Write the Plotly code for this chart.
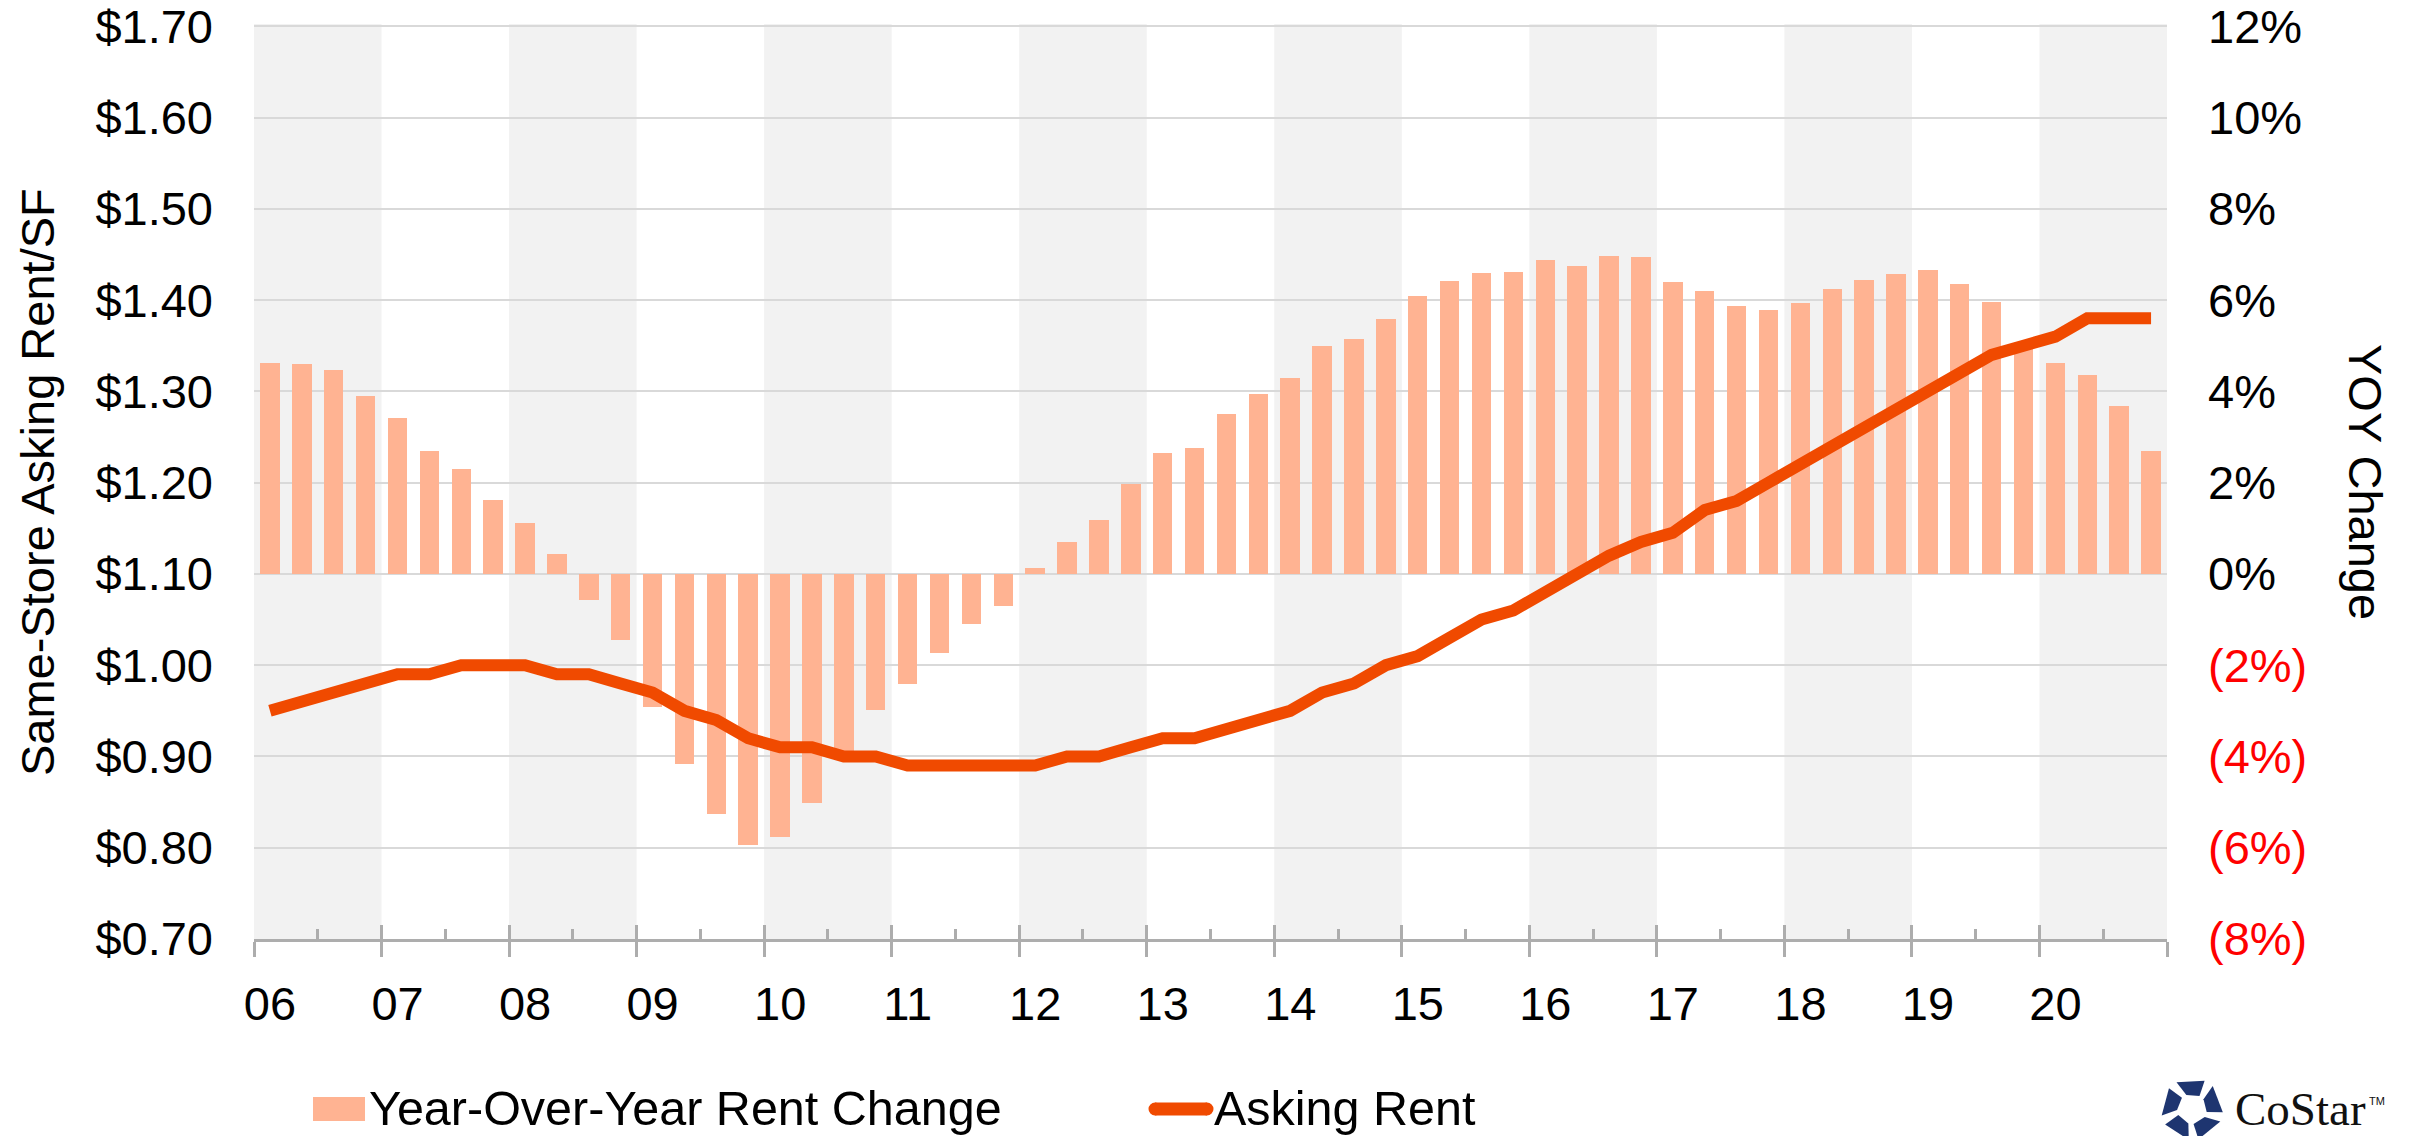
import math
import plotly.graph_objects as go

# ---------------- data ----------------
years = ["06", "07", "08", "09", "10", "11", "12", "13", "14", "15", "16", "17", "18", "19", "20"]

# Year-over-year rent change (%), quarterly 2006Q1 .. 2020Q4
yoy_change = [4.63, 4.60, 4.47, 3.89, 3.41, 2.69, 2.29, 1.63, 1.11, 0.44,
              -0.57, -1.44, -2.91, -4.16, -5.26, -5.94, -5.76, -5.03, -3.95, -2.99,
              -2.42, -1.74, -1.09, -0.70, 0.13, 0.69, 1.18, 1.97, 2.64, 2.76,
              3.51, 3.94, 4.29, 5.00, 5.15, 5.59, 6.08, 6.42, 6.59, 6.62,
              6.88, 6.75, 6.96, 6.95, 6.40, 6.21, 5.87, 5.79, 5.94, 6.25,
              6.44, 6.58, 6.67, 6.35, 5.96, 5.00, 4.63, 4.36, 3.69, 2.69]

# Same-store asking rent ($/SF), quarterly 2006Q1 .. 2020Q4
asking_rent = [0.95, 0.96, 0.97, 0.98, 0.99, 0.99, 1.00, 1.00, 1.00, 0.99,
               0.99, 0.98, 0.97, 0.95, 0.94, 0.92, 0.91, 0.91, 0.90, 0.90,
               0.89, 0.89, 0.89, 0.89, 0.89, 0.90, 0.90, 0.91, 0.92, 0.92,
               0.93, 0.94, 0.95, 0.97, 0.98, 1.00, 1.01, 1.03, 1.05, 1.06,
               1.08, 1.10, 1.12, 1.135, 1.145, 1.17, 1.18, 1.20, 1.22, 1.24,
               1.26, 1.28, 1.30, 1.32, 1.34, 1.35, 1.36, 1.38, 1.38, 1.38]

pct_ticks = [-8, -6, -4, -2, 0, 2, 4, 6, 8, 10, 12]
rent_ticks = [0.70, 0.80, 0.90, 1.00, 1.10, 1.20, 1.30, 1.40, 1.50, 1.60, 1.70]

legend_labels = ["Year-Over-Year Rent Change", "Asking Rent"]

# ---------------- style ----------------
BAR = "#FFB392"
LINE = "#F04A00"
BAND = "#F2F2F2"
GRID = "#D9D9D9"
AXIS = "#ADADAD"
NAVY = "#1E3570"
FONT = "Liberation Sans, Arial, sans-serif"
FS = 47
FS_LEG = 48.5

W, H = 2415, 1136
ML, MR, MT, MB = 254, 248, 24, 197
PW = W - ML - MR
PH = H - MT - MB


def xp(px):
    return (px - ML) / PW


def yp(py):
    return (H - MB - py) / PH


n = len(yoy_change)
xq = [i + 0.5 for i in range(n)]
year_edges = list(range(0, n + 1, 4))
half_years = list(range(2, n, 4))

fig = go.Figure()

fig.add_trace(go.Bar(
    x=xq, y=yoy_change, width=0.61, name=legend_labels[0],
    marker=dict(color=BAR, line=dict(width=0)),
    xaxis="x", yaxis="y", showlegend=False, hoverinfo="skip"))

# empty helper traces so tick-only overlay axes are drawn
fig.add_trace(go.Scatter(x=[None], y=[None], xaxis="x2", yaxis="y",
                         showlegend=False, hoverinfo="skip"))
fig.add_trace(go.Scatter(x=[None], y=[None], xaxis="x3", yaxis="y",
                         showlegend=False, hoverinfo="skip"))

fig.add_trace(go.Scatter(
    x=xq, y=asking_rent, mode="lines", name=legend_labels[1],
    line=dict(color=LINE, width=12),
    xaxis="x", yaxis="y2", showlegend=False, hoverinfo="skip"))

# alternating year bands
shapes = []
for k in range(0, len(years), 2):
    shapes.append(dict(type="rect", xref="x", yref="paper",
                       x0=year_edges[k], x1=year_edges[k] + 4, y0=0, y1=1,
                       fillcolor=BAND, line=dict(width=0), layer="below"))

# custom legend
shapes.append(dict(type="rect", xref="paper", yref="paper",
                   x0=xp(313), x1=xp(365), y0=yp(1121), y1=yp(1097),
                   fillcolor=BAR, line=dict(width=0)))
shapes.append(dict(type="line", xref="paper", yref="paper",
                   x0=xp(1155), x1=xp(1207), y0=yp(1109), y1=yp(1109),
                   line=dict(color=LINE, width=13)))
for cx in (1155, 1207):
    shapes.append(dict(type="circle", xref="paper", yref="paper",
                       x0=xp(cx - 6.5), x1=xp(cx + 6.5), y0=yp(1109 + 6.5), y1=yp(1109 - 6.5),
                       fillcolor=LINE, line=dict(width=0)))

# CoStar star icon (pinwheel of 5 pieces)
cx0, cy0, R, r = 2192, 1109, 31, 15
for k in range(5):
    a = -90 + 72 * k
    pts = []
    for ang, rad in ((a - 30, R), (a + 24, R), (a + 30, r), (a - 22, r)):
        t = math.radians(ang)
        pts.append((cx0 + rad * math.cos(t), cy0 + rad * math.sin(t)))
    path = "M " + " L ".join(f"{xp(px):.5f},{yp(py):.5f}" for px, py in pts) + " Z"
    shapes.append(dict(type="path", xref="paper", yref="paper", path=path,
                       fillcolor=NAVY, line=dict(width=0)))

annotations = [
    dict(text="Same-Store Asking Rent/SF", textangle=-90, xref="paper", yref="paper",
         x=xp(37), y=yp(482), xanchor="center", yanchor="middle", showarrow=False,
         font=dict(family=FONT, size=FS, color="#000000")),
    dict(text="YOY Change", textangle=90, xref="paper", yref="paper",
         x=xp(2366), y=yp(482), xanchor="center", yanchor="middle", showarrow=False,
         font=dict(family=FONT, size=FS, color="#000000")),
    dict(text=legend_labels[0], xref="paper", yref="paper", x=xp(368), y=yp(1108),
         xanchor="left", yanchor="middle", showarrow=False, borderpad=0,
         font=dict(family=FONT, size=FS_LEG, color="#000000")),
    dict(text=legend_labels[1], xref="paper", yref="paper", x=xp(1213), y=yp(1108),
         xanchor="left", yanchor="middle", showarrow=False, borderpad=0,
         font=dict(family=FONT, size=FS_LEG, color="#000000")),
    dict(text="CoStar", xref="paper", yref="paper", x=xp(2234), y=yp(1109),
         xanchor="left", yanchor="middle", showarrow=False, borderpad=0,
         font=dict(family="Liberation Serif, Times New Roman, serif", size=47, color="#111111")),
    dict(text="TM", xref="paper", yref="paper", x=xp(2368), y=yp(1101),
         xanchor="left", yanchor="middle", showarrow=False, borderpad=0,
         font=dict(family=FONT, size=11, color="#111111")),
]

pct_text = [f'<span style="color:#FF0000">({abs(v)}%)</span>' if v < 0 else f"{v}%" for v in pct_ticks]

fig.update_layout(
    width=W, height=H,
    margin=dict(l=ML, r=MR, t=MT, b=MB, autoexpand=False),
    paper_bgcolor="white", plot_bgcolor="white",
    font=dict(family=FONT, size=FS, color="#000000"),
    bargap=0, showlegend=False,
    shapes=shapes, annotations=annotations,
    xaxis=dict(range=[0, n], tickmode="array", tickvals=year_edges, ticktext=years + [""],
               ticks="outside", ticklen=15, tickwidth=3, tickcolor=AXIS,
               showline=True, linecolor=AXIS, linewidth=3,
               showgrid=False, zeroline=False, ticklabelshift=16, ticklabelstandoff=7,
               tickfont=dict(family=FONT, size=FS, color="#000000"), fixedrange=True),
    xaxis2=dict(range=[0, n], overlaying="x", anchor="y", side="bottom",
                tickmode="array", tickvals=year_edges, ticks="inside", ticklen=14,
                tickwidth=3, tickcolor=AXIS, showticklabels=False,
                showline=False, showgrid=False, zeroline=False, fixedrange=True),
    xaxis3=dict(range=[0, n], overlaying="x", anchor="y", side="bottom",
                tickmode="array", tickvals=half_years, ticks="inside", ticklen=10,
                tickwidth=3, tickcolor=AXIS, showticklabels=False,
                showline=False, showgrid=False, zeroline=False, fixedrange=True),
    yaxis=dict(range=[-8, 12.05], side="right", tickmode="array", tickvals=pct_ticks,
               ticktext=pct_text, ticks="", showgrid=True, gridcolor=GRID, gridwidth=1.5,
               zeroline=False, showline=False, ticklabelstandoff=40,
               ticklabeloverflow="allow",
               tickfont=dict(family=FONT, size=FS, color="#000000"), fixedrange=True),
    yaxis2=dict(range=[0.7, 1.7025], overlaying="y", side="left", anchor="x",
                tickmode="array", tickvals=rent_ticks, tickformat="$.2f",
                ticks="", showgrid=False, zeroline=False, showline=False,
                ticklabelstandoff=40, ticklabeloverflow="allow",
                tickfont=dict(family=FONT, size=FS, color="#000000"), fixedrange=True),
)

fig.write_html("out.html", config={"displayModeBar": False},
               post_script="document.body.style.margin='0';")
